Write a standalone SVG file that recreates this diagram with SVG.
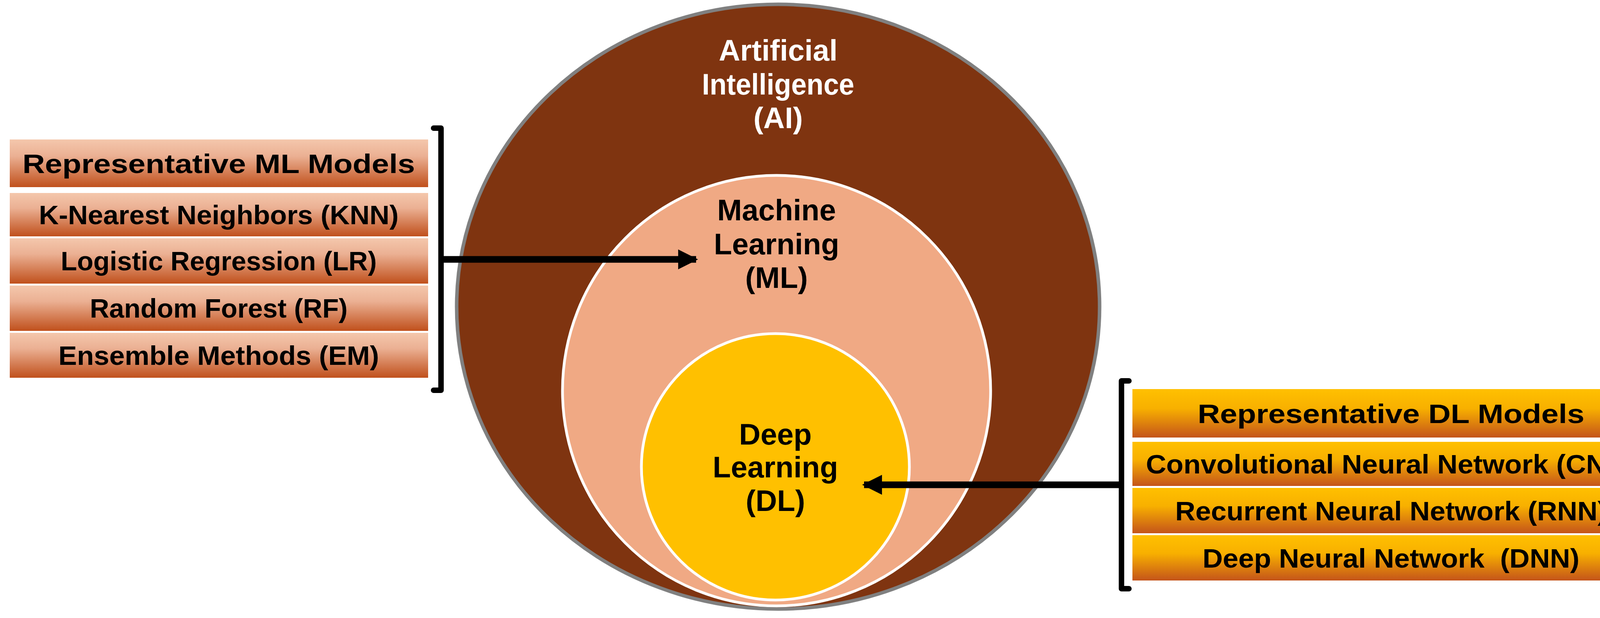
<svg xmlns="http://www.w3.org/2000/svg" width="4244" height="1582" viewBox="0 0 4244 1582">
<defs>
<linearGradient id="gl" x1="0" y1="0" x2="0" y2="1"><stop offset="0" stop-color="#F4C7AC"/><stop offset="0.35" stop-color="#EBB093"/><stop offset="1" stop-color="#C0501C"/></linearGradient>
<linearGradient id="gr" x1="0" y1="0" x2="0" y2="1"><stop offset="0" stop-color="#FFC000"/><stop offset="0.4" stop-color="#F8B000"/><stop offset="1" stop-color="#C4541A"/></linearGradient>
<marker id="ah" viewBox="0 0 10 10" refX="9" refY="5" markerWidth="3" markerHeight="3.4" orient="auto" markerUnits="strokeWidth"><path d="M0,0 L10,5 L0,10 z" fill="#000"/></marker>
</defs>
<style>
.bt{font-family:"Liberation Sans",Arial,sans-serif;font-weight:bold;font-size:68px;fill:#000;text-anchor:middle}
.ct{font-family:"Liberation Sans",Arial,sans-serif;font-weight:bold;font-size:76px;text-anchor:middle}
.bl{fill:url(#gl)}.br{fill:url(#gr)}
.con{stroke:#000;stroke-width:17;fill:none}
.brk{stroke:#000;stroke-width:14;fill:none;stroke-linejoin:round;stroke-linecap:round}
</style>
<rect width="4244" height="1582" fill="#fff"/>
<g id="ai"><ellipse cx="1992" cy="785" rx="823" ry="774" fill="#7F3410" stroke="#808080" stroke-width="9"/>
<text class="ct" fill="#fff" x="1992" y="155">Artificial</text>
<text class="ct" fill="#fff" x="1992" y="242" textLength="390" lengthAdjust="spacingAndGlyphs">Intelligence</text>
<text class="ct" fill="#fff" x="1992" y="328">(AI)</text></g>
<g id="ml"><ellipse cx="1988" cy="1000" rx="548" ry="551" fill="#F0A984" stroke="#fff" stroke-width="7"/>
<text class="ct" fill="#000" x="1988" y="564">Machine</text>
<text class="ct" fill="#000" x="1988" y="651">Learning</text>
<text class="ct" fill="#000" x="1988" y="737">(ML)</text></g>
<g id="dl"><ellipse cx="1985" cy="1195" rx="343" ry="341" fill="#FFC000" stroke="#fff" stroke-width="7"/>
<text class="ct" fill="#000" x="1985" y="1138">Deep</text>
<text class="ct" fill="#000" x="1985" y="1222">Learning</text>
<text class="ct" fill="#000" x="1985" y="1308">(DL)</text></g>
<g id="ml-models">
<rect class="bl" x="25" y="357" width="1071" height="122"/><text class="bt" x="560" y="443" textLength="1005" lengthAdjust="spacingAndGlyphs">Representative ML Models</text>
<rect class="bl" x="25" y="494" width="1071" height="111"/><text class="bt" x="560" y="574" textLength="921" lengthAdjust="spacingAndGlyphs">K-Nearest Neighbors (KNN)</text>
<rect class="bl" x="25" y="610" width="1071" height="116"/><text class="bt" x="560" y="692" textLength="809" lengthAdjust="spacingAndGlyphs">Logistic Regression (LR)</text>
<rect class="bl" x="25" y="731" width="1071" height="116"/><text class="bt" x="560" y="813" textLength="660" lengthAdjust="spacingAndGlyphs">Random Forest (RF)</text>
<rect class="bl" x="25" y="852" width="1071" height="115"/><text class="bt" x="560" y="934" textLength="821" lengthAdjust="spacingAndGlyphs">Ensemble Methods (EM)</text>
</g>
<g id="dl-models">
<rect class="br" x="2899" y="996" width="1324" height="124"/><text class="bt" x="3561" y="1083" textLength="990" lengthAdjust="spacingAndGlyphs">Representative DL Models</text>
<rect class="br" x="2899" y="1131" width="1324" height="113"/><text class="bt" x="3561" y="1212" textLength="1255" lengthAdjust="spacingAndGlyphs">Convolutional Neural Network (CNN)</text>
<rect class="br" x="2899" y="1249" width="1324" height="116"/><text class="bt" x="3561" y="1332" textLength="1105" lengthAdjust="spacingAndGlyphs">Recurrent Neural Network (RNN)</text>
<rect class="br" x="2899" y="1370" width="1324" height="116"/><text class="bt" x="3561" y="1453" textLength="965" lengthAdjust="spacingAndGlyphs" xml:space="preserve">Deep Neural Network  (DNN)</text>
</g>
<g id="connectors">
<path class="brk" d="M1110,328 L1129,328 L1129,999 L1110,999"/>
<path class="brk" d="M2890,975 L2871,975 L2871,1507 L2890,1507"/>
<line class="con" x1="1129" y1="664" x2="1782" y2="664" marker-end="url(#ah)"/>
<line class="con" x1="2871" y1="1241" x2="2212" y2="1241" marker-end="url(#ah)"/>
</g>
</svg>
